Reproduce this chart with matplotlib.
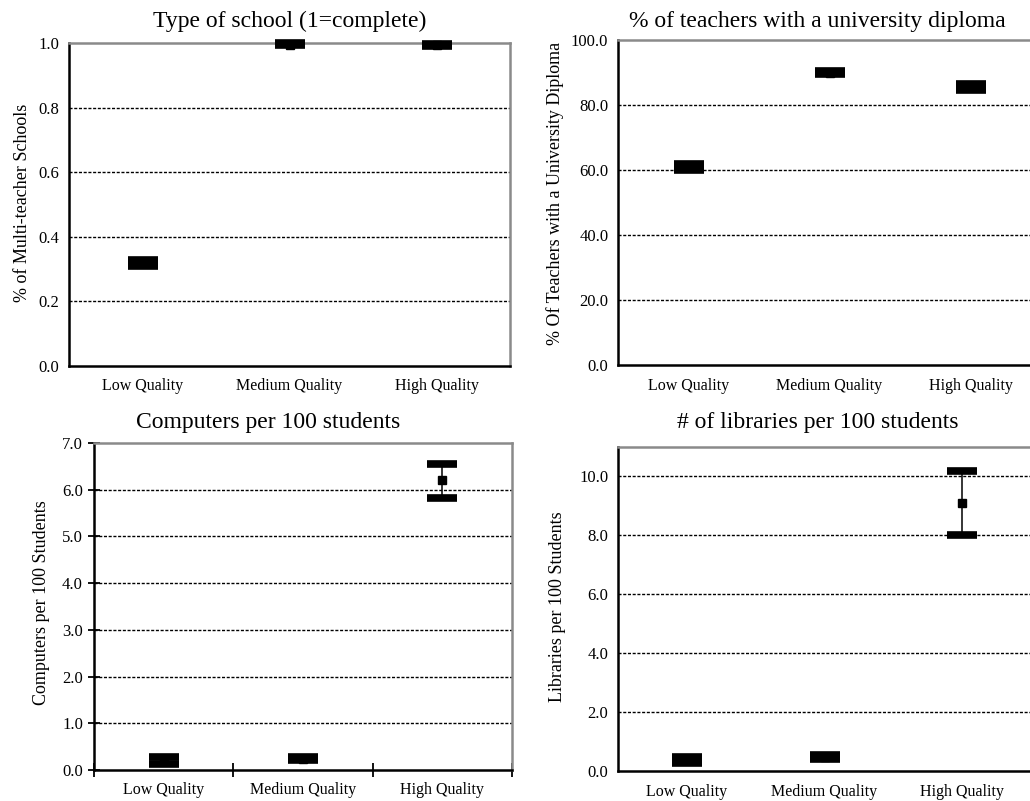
import numpy as np
import matplotlib
matplotlib.use('Agg')
import matplotlib.pyplot as plt

plt.rcParams['font.family'] = ['Liberation Serif', 'DejaVu Serif']

# Categories shared by all four panels
categories = ['Low Quality', 'Medium Quality', 'High Quality']

# Type of school (share of multi-teacher / complete schools)
school_mean = [0.32, 0.995, 0.993]
school_lo = [0.310, 0.993, 0.990]
school_hi = [0.328, 1.0, 0.997]

# % of teachers with a university diploma
diploma_mean = [60.9, 90.0, 85.5]
diploma_lo = [60.0, 89.5, 84.6]
diploma_hi = [61.8, 90.5, 86.5]

# Computers per 100 students
computers_mean = [0.20, 0.245, 6.20]
computers_lo = [0.13, 0.21, 5.83]
computers_hi = [0.27, 0.28, 6.56]

# Libraries per 100 students
libraries_mean = [0.37, 0.47, 9.10]
libraries_lo = [0.28, 0.41, 8.00]
libraries_hi = [0.46, 0.54, 10.20]

W, H = 1030, 801
fig = plt.figure(figsize=(W / 100, H / 100), dpi=100)


def px_axes(left, right, top, bottom):
    return fig.add_axes([left / W, (H - bottom) / H, (right - left) / W, (bottom - top) / H])


def draw_panel(ax, mean, lo, hi, ymax, yticks, fmt, title, title_xy, ylabel, ylabel_xy, ticks=False):
    x = np.arange(1, len(categories) + 1)
    mean = np.array(mean)
    err = [mean - np.array(lo), np.array(hi) - mean]
    eb = ax.errorbar(x, mean, yerr=err, fmt='s', color='black', ms=6,
                     elinewidth=1.1, capsize=11, capthick=5.5, zorder=5)
    for artist in eb.lines[0:1] + tuple(eb.lines[1]) + tuple(eb.lines[2]):
        artist.set_clip_on(False)

    ax.set_xlim(0.5, 3.5)
    ax.set_ylim(0, ymax)
    ax.set_xticks(x)
    ax.set_xticklabels(categories, fontsize=11.5)
    ax.set_yticks(yticks)
    ax.set_yticklabels([fmt.format(v) for v in yticks], fontsize=12)

    for v in yticks:
        if 0 < v < ymax:
            ax.axhline(v, color='black', lw=1.0, ls=(0, (2.2, 1.2)), zorder=1)

    for side in ['left', 'bottom']:
        ax.spines[side].set_color('black')
        ax.spines[side].set_linewidth(1.8)
    for side in ['top', 'right']:
        ax.spines[side].set_color('#8a8a8a')
        ax.spines[side].set_linewidth(1.8)

    if ticks:
        ax.tick_params(axis='y', direction='inout', length=8, width=1.3, pad=4)
        ax.tick_params(axis='x', which='major', length=0, pad=9)
        ax.set_xticks([0.5, 1.5, 2.5, 3.5], minor=True)
        ax.tick_params(axis='x', which='minor', direction='inout', length=10, width=1.3)
    else:
        ax.tick_params(axis='y', length=0, pad=7)
        ax.tick_params(axis='x', length=0, pad=9)

    fig.text(title_xy[0] / W, 1 - title_xy[1] / H, title, fontsize=17,
             ha='center', va='center')
    fig.text(ylabel_xy[0] / W, 1 - ylabel_xy[1] / H, ylabel, fontsize=13,
             rotation=90, ha='center', va='center')


ax1 = px_axes(69, 510, 43, 366)
draw_panel(ax1, school_mean, school_lo, school_hi, 1.0,
           [0.0, 0.2, 0.4, 0.6, 0.8, 1.0], '{:.1f}',
           'Type of school (1=complete)', (290, 21),
           '% of Multi-teacher Schools', (23, 203))

ax2 = px_axes(618, 1041, 40, 365)
draw_panel(ax2, diploma_mean, diploma_lo, diploma_hi, 100.0,
           [0.0, 20.0, 40.0, 60.0, 80.0, 100.0], '{:.1f}',
           '% of teachers with a university diploma', (817, 21),
           '% Of Teachers with a University Diploma', (555, 193))

ax3 = px_axes(94, 512, 443, 770)
draw_panel(ax3, computers_mean, computers_lo, computers_hi, 7.0,
           [0.0, 1.0, 2.0, 3.0, 4.0, 5.0, 6.0, 7.0], '{:.1f}',
           'Computers per 100 students', (268, 423),
           'Computers per 100 Students', (42, 603), ticks=True)

ax4 = px_axes(618, 1031, 447, 771)
draw_panel(ax4, libraries_mean, libraries_lo, libraries_hi, 11.0,
           [0.0, 2.0, 4.0, 6.0, 8.0, 10.0], '{:.1f}',
           '# of libraries per 100 students', (818, 423),
           'Libraries per 100 Students', (558, 607))

fig.savefig('out.png', dpi=100)
